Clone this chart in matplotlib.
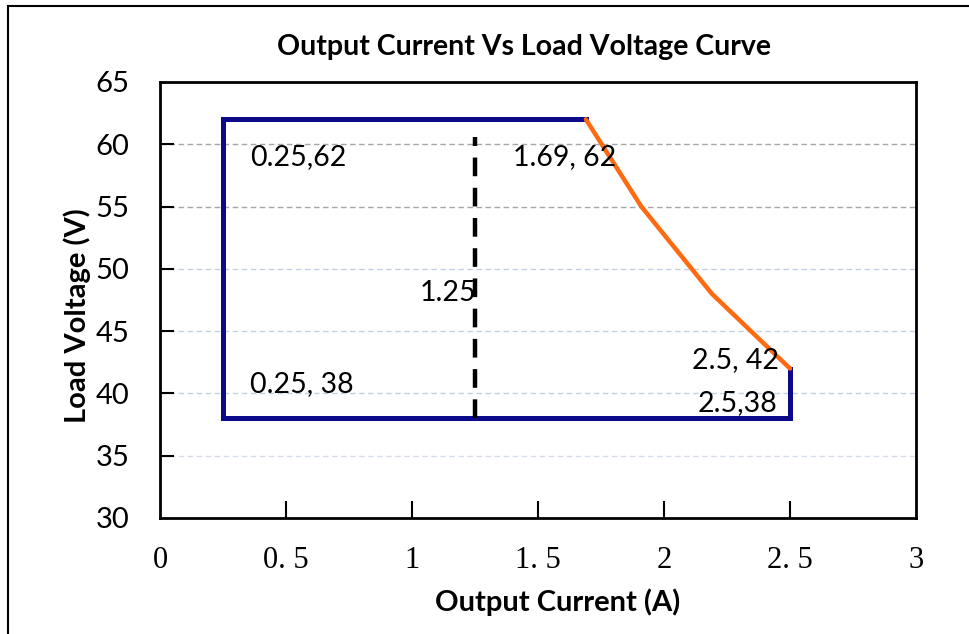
import matplotlib
matplotlib.use("Agg")
import matplotlib.pyplot as plt
from matplotlib.patches import Rectangle

# Data
box_x = [1.69, 0.25, 0.25, 2.5, 2.5]
box_y = [62, 62, 38, 38, 42]
curve_x = [1.69, 1.91, 2.19, 2.5]
curve_y = [62, 55, 48, 42]
split_x = [1.25, 1.25]
split_y = [38, 60.6]
x_ticks = [0, 0.5, 1, 1.5, 2, 2.5, 3]
x_tick_labels = ["0", "0. 5", "1", "1. 5", "2", "2. 5", "3"]
y_ticks = [30, 35, 40, 45, 50, 55, 60, 65]
labels = [("0.25,62", 0.357, 59.0, "left"),
          ("1.69, 62", 1.40, 59.0, "left"),
          ("1.25", 1.255, 48.1, "right"),
          ("0.25, 38", 0.357, 40.75, "left"),
          ("2.5, 42", 2.455, 42.7, "right"),
          ("2.5,38", 2.45, 39.2, "right")]

SANS = "Lato"
W, H = 969, 634
fig = plt.figure(figsize=(W / 100, H / 100), dpi=100)
ax = fig.add_axes([160 / W, 1 - 518 / H, (916 - 160) / W, (518 - 82) / H])

# gridlines
grid_styles = {60: "#a6a6a6", 55: "#a6a6a6", 50: "#c3d0e3", 45: "#c3d0e3",
               40: "#c3d0e3", 35: "#d5dde9"}
for yv, c in grid_styles.items():
    ax.axhline(yv, color=c, lw=1.0, ls=(0, (4, 2.5)), zorder=1)

ax.plot(box_x, box_y, color="#0a0a8a", lw=3.6, solid_joinstyle="miter", zorder=3)
ax.plot(curve_x, curve_y, color="#ff6a10", lw=3.2, solid_capstyle="round", zorder=4)
ax.plot(split_x, split_y, color="black", lw=3.2, ls=(0, (4.2, 2.6)), zorder=3)

for t, xv, yv, ha in labels:
    ax.text(xv, yv, t, ha=ha, va="center", fontsize=20.5, family=SANS, zorder=5)

ax.set_xlim(0, 3)
ax.set_ylim(30, 65)
ax.set_xticks(x_ticks)
ax.set_xticklabels(x_tick_labels, family="Liberation Serif", fontsize=22)
ax.set_yticks(y_ticks)
ax.set_yticklabels([str(v) for v in y_ticks], family=SANS, fontsize=21)
ax.tick_params(axis="x", direction="in", length=12, width=1.5, pad=20)
ax.tick_params(axis="y", direction="in", length=10, width=1.5, pad=22)
# hide ticks at axis ends
for t in ax.xaxis.get_major_ticks():
    if t.get_loc() in (0, 3):
        t.tick1line.set_visible(False)
for t in ax.yaxis.get_major_ticks():
    if t.get_loc() in (30, 65):
        t.tick1line.set_visible(False)
for s in ax.spines.values():
    s.set_linewidth(2.0)
    s.set_color("black")

fig.text(524 / W, 1 - 47 / H, "Output Current Vs Load Voltage Curve", ha="center",
         va="center", fontsize=20.5, fontweight="bold", family=SANS)
fig.text(558 / W, 1 - 602 / H, "Output Current (A)", ha="center", va="center",
         fontsize=21, fontweight="bold", family=SANS)
fig.text(77 / W, 1 - 316 / H, "Load Voltage (V)", ha="center", va="center",
         rotation=90, fontsize=21, fontweight="bold", family=SANS)

fig.patches.append(Rectangle((8 / W, -0.05), 1.2, 1 - 6 / H + 0.05,
                             transform=fig.transFigure, fill=False,
                             edgecolor="black", lw=1.5, clip_on=False))

fig.savefig("out.png", dpi=100)
